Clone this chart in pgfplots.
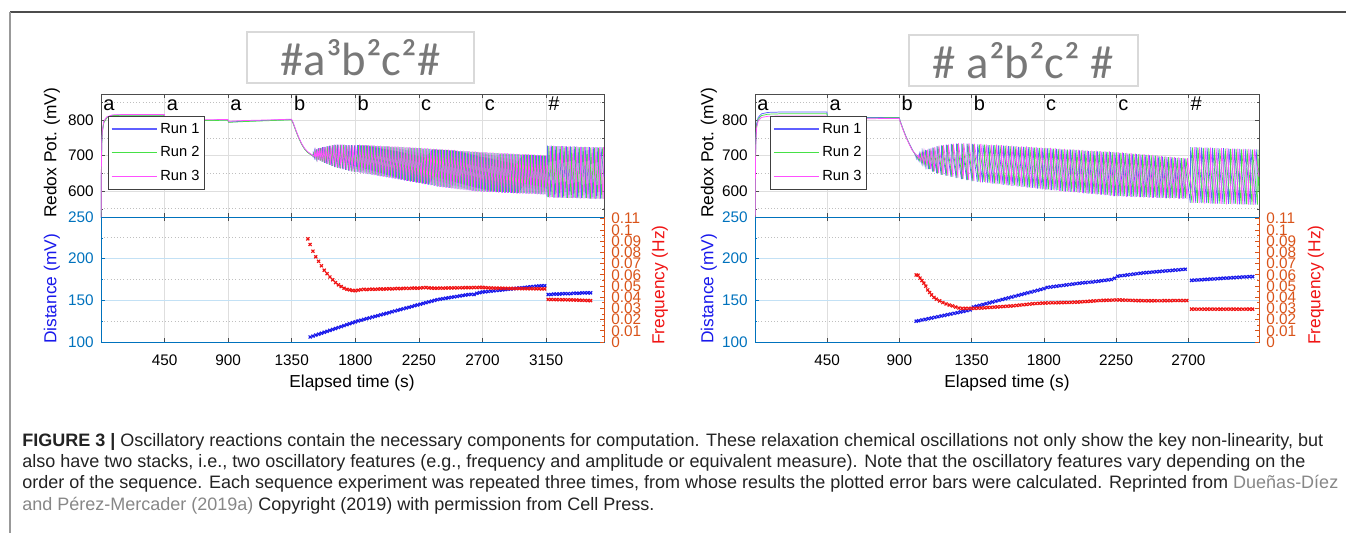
\documentclass[border=0pt]{standalone}
\usepackage{fontspec}
\setmainfont{Liberation Sans}
\newfontfamily\titlefont{Carlito}
\usepackage{pgfplots}
\pgfplotsset{compat=1.18}
\definecolor{runA}{RGB}{95,95,255}
\definecolor{runB}{RGB}{70,225,70}
\definecolor{runC}{RGB}{255,80,255}
\definecolor{mblue}{RGB}{0,114,189}
\definecolor{morange}{RGB}{217,83,25}
\definecolor{dblue}{RGB}{25,25,235}
\definecolor{dred}{RGB}{240,20,20}
\definecolor{gridc}{RGB}{222,222,222}
\definecolor{gridb}{RGB}{195,225,245}
\definecolor{capc}{RGB}{35,35,35}
\definecolor{linkc}{RGB}{135,135,135}
\definecolor{titc}{RGB}{120,120,120}
\pgfplotsset{
  panel/.style={
    scale only axis, anchor=south west,
    /pgf/number format/assume math mode=true,
    /pgf/number format/1000 sep={},
    tick label style={font=\fontsize{11.5}{13}\selectfont},
    axis line style={black!70, line width=0.6pt},
    tick style={black!70, line width=0.5pt},
    tick align=inside, major tick length=3pt, minor tick length=1.5pt,
    xmin=0,
  },
  toppanel/.style={panel, ymin=527, ymax=874, ytick={600,700,800}, minor ytick={550,650,750,850},
    xticklabels={}, xmajorgrids, ymajorgrids, yminorgrids,
    major x grid style={gridc, line width=0.5pt}, major y grid style={gridc, line width=0.5pt},
    minor y grid style={gray!50, dotted, line width=0.6pt},
    yticklabel style={xshift=-2pt},
    legend style={at={(0.014,0.822)}, anchor=north west, draw=black!75, line width=0.6pt, fill=white,
      font=\fontsize{11}{13}\selectfont, inner xsep=2pt, inner ysep=3pt, row sep=4.6pt},
    legend cell align=left},
  botpanel/.style={panel, ymin=100, ymax=250, ytick={100,150,200,250}, minor ytick={125,175,225},
    xmajorgrids, ymajorgrids, yminorgrids,
    major x grid style={gridc, line width=0.5pt}, major y grid style={gridb, line width=0.5pt},
    minor y grid style={gray!50, dotted, line width=0.6pt},
    y axis line style={mblue}, ytick style={mblue}, yticklabel style={mblue, xshift=-2pt},
    xticklabel style={yshift=-6pt}, ytick pos=left},
  freqpanel/.style={panel, ymin=0, ymax=0.1115, axis x line=none, axis y line*=right,
    y axis line style={-, morange, line width=0.6pt},
    ytick={0,0.01,0.02,0.03,0.04,0.05,0.06,0.07,0.08,0.09,0.1,0.11},
    yticklabels={0,0.01,0.02,0.03,0.04,0.05,0.06,0.07,0.08,0.09,0.1,0.11},
    yticklabel style={morange, xshift=2pt}, ytick style={morange}, minor y tick num=1},
  dmark/.style={only marks, mark=x, mark size=1.6pt, mark options={line width=0.9pt}},
}
\newcommand\capfont{\fontsize{13.5}{15}\selectfont}
\begin{document}
\begin{tikzpicture}
\begin{scope}[x=0.75pt,y=-0.75pt]
\useasboundingbox (0,0) rectangle (1346,533);
\draw[black!70, line width=1.4pt] (10,12) -- (1346,12);
\draw[black!40, line width=1.4pt] (10,12) -- (10,533);
% titles
\draw[gray!30, line width=0.8pt] (247,32) rectangle (474,83);
\node[text=titc, inner sep=0pt] at (360.5,57.5) {\titlefont\fontsize{35}{35}\selectfont \#a³b²c²\#};
\draw[gray!30, line width=0.8pt] (909,35) rectangle (1138,86);
\node[text=titc, inner sep=0pt] at (1023.5,60.5) {\titlefont\fontsize{35}{35}\selectfont \# a²b²c² \#};
% axis labels
\begin{scope}[font=\fontsize{13}{15}\selectfont]
\node[rotate=90] at (52,153) {Redox Pot. (mV)};
\node[rotate=90, text=dblue] at (52,289) {Distance (mV)};
\node[rotate=90, text=dred] at (660,285) {Frequency (Hz)};
\node at (352,383) {Elapsed time (s)};
\node[rotate=90] at (709,153) {Redox Pot. (mV)};
\node[rotate=90, text=dblue] at (709,289) {Distance (mV)};
\node[rotate=90, text=dred] at (1316,285) {Frequency (Hz)};
\node at (1007,383) {Elapsed time (s)};
\end{scope}
% caption
\begin{scope}[every node/.style={anchor=base west, inner sep=0pt, font=\capfont, text=capc}]
\node at (22,446) {\textbf{FIGURE 3 |} Oscillatory reactions contain the necessary components for computation. These relaxation chemical oscillations not only show the key non-linearity, but};
\node at (22,467.3) {also have two stacks, i.e., two oscillatory features (e.g., frequency and amplitude or equivalent measure). Note that the oscillatory features vary depending on the};
\node at (22,488.6) {order of the sequence. Each sequence experiment was repeated three times, from whose results the plotted error bars were calculated. Reprinted from \textcolor{linkc}{Dueñas-Díez}};
\node at (22,510) {\textcolor{linkc}{and Pérez-Mercader (2019a)} Copyright (2019) with permission from Cell Press.};
\end{scope}
\end{scope}

%================ LEFT TOP =================
\begin{axis}[toppanel, at={(75.75pt,-162.75pt)}, width=377.25pt, height=92.25pt, xmax=3560,
  xtick={0,450,...,3150},
  legend image code/.code={\draw[#1, line width=0.9pt] (0pt,0pt) -- (34pt,0pt);}]
\addplot[runA, line width=0.55pt, mark=none] coordinates {
(0,480)(3,680)(6,740)(10,770)(20,795)(40,808)(80,814)(150,815)(448,815)(452,799)(600,799)(898,801)(903,795)(1000,797)(1200,800)(1348,802)(1360,792)(1380,770)(1400,750)(1420,733)(1440,720)(1460,711)(1480,705)(1498,700)
(1500,698)(1502,708)(1511,695)(1513,714)(1523,692)(1525,718)(1536,689)(1538,721)(1550,686)(1552,722)(1565,683)(1567,724)(1581,680)(1583,725)(1598,677)(1600,727)(1616,674)(1618,728)(1634,671)(1636,730)(1653,668)(1655,731)(1672,666)(1674,731)(1691,664)(1693,731)(1711,662)(1713,731)(1731,660)(1733,730)(1751,658)(1753,730)(1771,656)(1773,730)(1792,654)(1794,729)
(1813,654)(1815,730)(1834,652)(1836,729)(1855,651)(1857,729)(1876,649)(1878,729)(1897,648)(1899,728)(1918,646)(1920,728)(1939,645)(1941,727)(1960,643)(1962,727)(1981,642)(1983,726)(2002,641)(2004,726)(2023,639)(2025,726)(2044,638)(2046,725)(2065,636)(2067,725)(2086,635)(2088,725)(2107,633)(2109,724)(2128,632)(2130,724)(2149,630)(2151,723)(2170,629)(2172,723)(2191,627)(2193,722)(2212,626)(2214,722)(2233,624)(2235,721)(2254,623)(2256,721)(2275,621)(2277,720)(2296,620)(2298,720)(2317,618)(2319,719)(2338,617)(2340,718)(2359,615)(2361,718)(2380,613)(2382,717)(2401,612)(2403,717)(2422,611)(2424,716)(2443,610)(2445,716)(2464,609)(2466,715)(2485,608)(2487,715)(2506,607)(2508,714)(2527,606)(2529,713)(2548,605)(2550,713)(2569,604)(2571,712)(2590,603)(2592,712)(2611,602)(2613,711)(2632,601)(2634,711)(2653,600)(2655,710)(2674,600)(2676,709)(2695,599)(2697,709)(2716,599)(2718,709)(2737,598)(2739,708)(2758,598)(2760,708)(2779,598)(2781,707)(2800,597)(2802,707)(2821,597)(2823,706)(2842,596)(2844,706)(2863,596)(2865,706)(2884,596)(2886,705)(2905,595)(2907,705)(2926,595)(2928,704)(2947,594)(2949,704)(2968,594)(2970,703)(2989,594)(2991,703)(3010,593)(3012,703)(3031,593)(3033,702)(3052,593)(3054,702)(3073,592)(3075,701)(3094,592)(3096,701)(3115,591)(3117,700)(3136,591)(3138,700)
(3158,583)(3160,728)(3185,583)(3187,728)(3212,582)(3214,727)(3239,582)(3241,727)(3266,582)(3268,727)(3293,581)(3295,726)(3320,581)(3322,726)(3347,581)(3349,726)(3374,580)(3376,725)(3401,580)(3403,725)(3428,580)(3430,725)(3455,579)(3457,724)(3482,579)(3484,724)(3509,579)(3511,724)(3536,579)(3538,724)(3560,640)
};
\addplot[runB, line width=0.55pt, mark=none] coordinates {
(0,480)(3,670)(6,735)(10,768)(20,793)(40,806)(80,813)(150,814)(448,814)(452,797)(600,798)(898,800)(903,794)(1000,796)(1200,799)(1348,801)(1360,791)(1380,769)(1400,749)(1420,732)(1440,719)(1460,710)(1480,704)(1502,699)
(1504,698)(1506,707)(1515,695)(1517,713)(1527,692)(1529,717)(1540,689)(1542,720)(1554,686)(1556,721)(1569,683)(1571,723)(1585,680)(1587,724)(1602,677)(1604,726)(1620,674)(1622,727)(1638,671)(1640,729)(1657,668)(1659,730)(1676,666)(1678,730)(1695,664)(1697,730)(1715,662)(1717,730)(1735,660)(1737,729)(1755,658)(1757,729)(1775,656)(1777,729)(1796,654)(1798,728)
(1820,655)(1822,730)(1841,653)(1843,729)(1862,652)(1864,729)(1883,650)(1885,729)(1904,649)(1906,728)(1925,647)(1927,728)(1946,646)(1948,727)(1967,644)(1969,727)(1988,643)(1990,726)(2009,642)(2011,726)(2030,640)(2032,726)(2051,639)(2053,725)(2072,637)(2074,725)(2093,636)(2095,725)(2114,634)(2116,724)(2135,633)(2137,724)(2156,631)(2158,723)(2177,630)(2179,723)(2198,628)(2200,722)(2219,627)(2221,722)(2240,625)(2242,721)(2261,624)(2263,721)(2282,622)(2284,720)(2303,621)(2305,720)(2324,619)(2326,719)(2345,618)(2347,718)(2366,616)(2368,718)(2387,614)(2389,717)(2408,613)(2410,717)(2429,612)(2431,716)(2450,611)(2452,716)(2471,610)(2473,715)(2492,609)(2494,715)(2513,608)(2515,714)(2534,607)(2536,713)(2555,606)(2557,713)(2576,605)(2578,712)(2597,604)(2599,712)(2618,603)(2620,711)(2639,602)(2641,711)(2660,601)(2662,710)(2681,601)(2683,709)(2702,600)(2704,709)(2723,600)(2725,709)(2744,599)(2746,708)(2765,599)(2767,708)(2786,599)(2788,707)(2807,598)(2809,707)(2828,598)(2830,706)(2849,597)(2851,706)(2870,597)(2872,706)(2891,597)(2893,705)(2912,596)(2914,705)(2933,596)(2935,704)(2954,595)(2956,704)(2975,595)(2977,703)(2996,595)(2998,703)(3017,594)(3019,703)(3038,594)(3040,702)(3059,594)(3061,702)(3080,593)(3082,701)(3101,593)(3103,701)(3122,592)(3124,700)(3143,592)(3145,700)
(3167,583)(3169,727)(3194,583)(3196,727)(3221,582)(3223,726)(3248,582)(3250,726)(3275,582)(3277,726)(3302,581)(3304,725)(3329,581)(3331,725)(3356,581)(3358,725)(3383,580)(3385,724)(3410,580)(3412,724)(3437,580)(3439,724)(3464,579)(3466,723)(3491,579)(3493,723)(3518,579)(3520,723)(3545,579)(3547,723)(3560,690)
};
\addplot[runC, line width=0.55pt, mark=none] coordinates {
(0,480)(3,690)(6,745)(10,773)(20,797)(40,809)(80,815)(150,816)(448,816)(452,801)(600,801)(898,802)(903,797)(1000,799)(1200,801)(1348,803)(1360,793)(1380,771)(1400,751)(1420,734)(1440,721)(1460,712)(1480,706)(1506,699)
(1508,698)(1510,708)(1519,695)(1521,714)(1531,692)(1533,718)(1544,689)(1546,721)(1558,686)(1560,722)(1573,683)(1575,724)(1589,680)(1591,725)(1606,677)(1608,727)(1624,674)(1626,728)(1642,671)(1644,730)(1661,668)(1663,731)(1680,666)(1682,731)(1699,664)(1701,731)(1719,662)(1721,731)(1739,660)(1741,730)(1759,658)(1761,730)(1779,656)(1781,730)(1800,654)(1802,729)
(1827,653)(1829,731)(1848,651)(1850,730)(1869,650)(1871,730)(1890,648)(1892,730)(1911,647)(1913,729)(1932,645)(1934,729)(1953,644)(1955,728)(1974,642)(1976,728)(1995,641)(1997,727)(2016,640)(2018,727)(2037,638)(2039,727)(2058,637)(2060,726)(2079,635)(2081,726)(2100,634)(2102,726)(2121,632)(2123,725)(2142,631)(2144,725)(2163,629)(2165,724)(2184,628)(2186,724)(2205,626)(2207,723)(2226,625)(2228,723)(2247,623)(2249,722)(2268,622)(2270,722)(2289,620)(2291,721)(2310,619)(2312,721)(2331,617)(2333,720)(2352,616)(2354,719)(2373,614)(2375,719)(2394,612)(2396,718)(2415,611)(2417,718)(2436,610)(2438,717)(2457,609)(2459,717)(2478,608)(2480,716)(2499,607)(2501,716)(2520,606)(2522,715)(2541,605)(2543,714)(2562,604)(2564,714)(2583,603)(2585,713)(2604,602)(2606,713)(2625,601)(2627,712)(2646,600)(2648,712)(2667,599)(2669,711)(2688,599)(2690,710)(2709,598)(2711,710)(2730,598)(2732,710)(2751,597)(2753,709)(2772,597)(2774,709)(2793,597)(2795,708)(2814,596)(2816,708)(2835,596)(2837,707)(2856,595)(2858,707)(2877,595)(2879,707)(2898,595)(2900,706)(2919,594)(2921,706)(2940,594)(2942,705)(2961,593)(2963,705)(2982,593)(2984,704)(3003,593)(3005,704)(3024,592)(3026,704)(3045,592)(3047,703)(3066,592)(3068,703)(3087,591)(3089,702)(3108,591)(3110,702)(3129,590)(3131,701)(3150,590)(3152,701)
(3176,582)(3178,728)(3203,582)(3205,728)(3230,581)(3232,727)(3257,581)(3259,727)(3284,581)(3286,727)(3311,580)(3313,726)(3338,580)(3340,726)(3365,580)(3367,726)(3392,579)(3394,725)(3419,579)(3421,725)(3446,579)(3448,725)(3473,578)(3475,724)(3500,578)(3502,724)(3527,578)(3529,724)(3554,578)(3556,724)(3560,705)
};
\legend{Run 1,Run 2,Run 3}
\begin{scope}[every node/.style={anchor=base west, inner sep=0pt, font=\fontsize{15}{15}\selectfont, xshift=1.5pt}]
\node at (axis cs:0,828) {a};
\node at (axis cs:450,828) {a};
\node at (axis cs:900,828) {a};
\node at (axis cs:1350,828) {b};
\node at (axis cs:1800,828) {b};
\node at (axis cs:2250,828) {c};
\node at (axis cs:2700,828) {c};
\node at (axis cs:3150,828) {\#};
\end{scope}
\end{axis}

%================ LEFT BOTTOM =================
\begin{axis}[botpanel, at={(75.75pt,-256.5pt)}, width=377.25pt, height=93.75pt, xmax=3560,
  xtick={450,900,...,3150}]
\addplot[dmark, dblue] coordinates {
(1480,106.0)(1500,107.1)(1520,108.3)(1540,109.4)(1560,110.5)(1580,111.7)(1600,112.8)(1620,114.0)(1640,115.1)(1660,116.2)(1680,117.4)(1700,118.5)(1720,119.6)(1740,120.8)(1760,121.9)(1780,123.1)(1800,124.2)(1820,125.3)(1840,126.2)(1860,127.1)(1880,128.0)(1900,128.9)(1920,129.9)(1940,130.8)(1960,131.7)(1980,132.6)(2000,133.5)(2020,134.4)(2040,135.3)(2060,136.3)(2080,137.2)(2100,138.1)(2120,139.0)(2140,139.9)(2160,140.8)(2180,141.7)(2200,142.6)(2220,143.6)(2240,144.5)(2260,145.4)(2280,146.3)(2300,147.2)(2320,148.1)(2340,149.0)(2360,150.0)(2380,150.8)(2400,151.4)(2420,152.0)(2440,152.5)(2460,153.1)(2480,153.7)(2500,154.2)(2520,154.7)(2540,155.3)(2560,155.8)(2580,156.4)(2600,156.9)(2620,157.2)(2640,157.0)(2660,158.5)(2680,159.3)(2700,159.9)(2720,160.3)(2740,160.6)(2760,161.0)(2780,161.4)(2800,161.8)(2820,162.1)(2840,162.5)(2860,162.9)(2880,163.3)(2900,163.6)(2920,164.0)(2940,164.4)(2960,164.8)(2980,165.1)(3000,165.5)(3020,165.9)(3040,166.3)(3060,166.6)(3080,167.0)(3100,167.3)(3120,167.5)(3140,167.5)
(3165,157.0)(3185,157.0)(3205,157.5)(3225,157.5)(3245,157.5)(3265,158.0)(3285,158.0)(3305,158.0)(3325,158.0)(3345,158.5)(3365,158.5)(3385,158.5)(3405,159.0)(3425,159.0)(3445,159.0)(3465,159.0)
};
\end{axis}
\begin{axis}[freqpanel, at={(75.75pt,-256.5pt)}, width=377.25pt, height=93.75pt, xmax=3560]
\addplot[dmark, dred] coordinates {
(1464,0.092)(1480,0.087)(1500,0.081)(1520,0.076)(1540,0.072)(1560,0.068)(1580,0.064)(1600,0.061)(1620,0.058)(1640,0.0555)(1660,0.053)(1680,0.051)(1700,0.0495)(1720,0.048)(1740,0.047)(1760,0.0465)(1780,0.046)(1800,0.0458)(1820,0.0462)(1840,0.0467)(1860,0.0470)(1880,0.0468)(1900,0.0470)(1920,0.0471)(1940,0.0470)(1960,0.0472)(1980,0.0473)(2000,0.0472)(2020,0.0474)(2040,0.0475)(2060,0.0474)(2080,0.0476)(2100,0.0477)(2120,0.0476)(2140,0.0478)(2160,0.0479)(2180,0.0478)(2200,0.0480)(2220,0.0481)(2240,0.0480)(2260,0.0482)(2280,0.0484)(2300,0.0486)(2320,0.0483)(2340,0.0481)(2360,0.0480)(2380,0.0480)(2400,0.0481)(2420,0.0480)(2440,0.0481)(2460,0.0482)(2480,0.0482)(2500,0.0483)(2520,0.0483)(2540,0.0484)(2560,0.0484)(2580,0.0485)(2600,0.0485)(2620,0.0485)(2640,0.0486)(2660,0.0486)(2680,0.0487)(2700,0.0487)(2720,0.0485)(2740,0.0483)(2760,0.0482)(2780,0.0481)(2800,0.0480)(2820,0.0480)(2840,0.0479)(2860,0.0479)(2880,0.0478)(2900,0.0478)(2920,0.0477)(2940,0.0477)(2960,0.0477)(2980,0.0476)(3000,0.0476)(3020,0.0476)(3040,0.0476)(3060,0.0475)(3080,0.0475)(3100,0.0475)(3120,0.0474)(3140,0.0474)
(3165,0.0380)(3185,0.0379)(3205,0.0379)(3225,0.0378)(3245,0.0378)(3265,0.0377)(3285,0.0377)(3305,0.0376)(3325,0.0376)(3345,0.0375)(3365,0.0374)(3385,0.0373)(3405,0.0372)(3425,0.0371)(3445,0.0370)(3465,0.0369)
};
\end{axis}

%================ RIGHT TOP =================
\begin{axis}[toppanel, at={(566.25pt,-162.75pt)}, width=378pt, height=92.25pt, xmax=3140,
  xtick={0,450,...,2700}, legend style={at={(0.03,0.822)}},
  legend image code/.code={\draw[#1, line width=0.9pt] (0pt,0pt) -- (34pt,0pt);}]
\addplot[runA, line width=0.55pt, mark=none] coordinates {
(0,480)(3,700)(6,760)(10,790)(20,808)(40,818)(80,822)(150,823)(448,823)(452,809)(600,808)(898,808)(905,797)(920,778)(940,755)(960,735)(980,717)(995,705)(1003,697)
(1005,693)(1007,700)(1022,685)(1024,706)(1040,677)(1042,712)(1060,670)(1062,716)(1082,662)(1084,720)(1106,655)(1108,723)(1132,650)(1134,727)(1160,646)(1162,729)(1190,643)(1192,731)(1221,640)(1223,733)(1253,637)(1255,734)(1286,634)(1288,734)(1319,631)(1321,734)(1352,628)(1354,733)
(1385,626)(1387,732)(1418,625)(1420,731)(1450,623)(1452,730)(1482,621)(1484,730)(1514,620)(1516,729)(1546,618)(1548,728)(1577,616)(1579,727)(1608,615)(1610,726)(1639,613)(1641,725)(1670,612)(1672,725)(1700,610)(1702,724)(1730,609)(1732,723)(1760,607)(1762,722)(1790,605)(1792,721)(1819,604)(1821,721)(1848,603)(1850,720)(1877,602)(1879,719)(1906,600)(1908,718)(1935,599)(1937,717)(1964,598)(1966,717)(1992,597)(1994,716)(2020,596)(2022,715)(2048,594)(2050,714)(2076,593)(2078,713)(2104,592)(2106,713)(2132,591)(2134,712)(2159,590)(2161,711)(2186,589)(2188,711)(2213,587)(2215,710)(2240,586)(2242,709)(2267,586)(2269,708)(2294,585)(2296,707)(2321,585)(2323,706)(2348,584)(2350,705)(2375,584)(2377,704)(2402,583)(2404,703)(2429,583)(2431,702)(2456,582)(2458,701)(2483,582)(2485,700)(2510,581)(2512,698)(2537,581)(2539,697)(2564,580)(2566,696)(2591,580)(2593,695)(2618,580)(2620,694)(2645,579)(2647,693)(2672,579)(2674,692)
(2712,567)(2714,724)(2746,567)(2748,724)(2780,566)(2782,723)(2814,566)(2816,723)(2848,565)(2850,722)(2882,565)(2884,721)(2916,564)(2918,721)(2950,564)(2952,720)(2984,564)(2986,720)(3018,563)(3020,719)(3052,563)(3054,719)(3086,562)(3088,718)(3120,562)(3122,718)(3140,620)
};
\addplot[runB, line width=0.55pt, mark=none] coordinates {
(0,480)(3,690)(6,752)(10,783)(20,803)(40,813)(80,817)(150,818)(448,818)(452,807)(600,806)(898,807)(905,796)(920,777)(940,754)(960,734)(980,716)(1000,703)(1009,697)
(1011,693)(1013,699)(1028,685)(1030,705)(1046,677)(1048,711)(1066,670)(1068,715)(1088,662)(1090,719)(1112,655)(1114,722)(1138,650)(1140,726)(1166,646)(1168,728)(1196,643)(1198,730)(1227,640)(1229,732)(1259,637)(1261,733)(1292,634)(1294,733)(1325,631)(1327,733)(1358,628)(1360,732)
(1395,627)(1397,732)(1428,626)(1430,731)(1460,624)(1462,730)(1492,622)(1494,730)(1524,621)(1526,729)(1556,619)(1558,728)(1587,617)(1589,727)(1618,616)(1620,726)(1649,614)(1651,725)(1680,613)(1682,725)(1710,611)(1712,724)(1740,610)(1742,723)(1770,608)(1772,722)(1800,606)(1802,721)(1829,605)(1831,721)(1858,604)(1860,720)(1887,603)(1889,719)(1916,601)(1918,718)(1945,600)(1947,717)(1974,599)(1976,717)(2002,598)(2004,716)(2030,597)(2032,715)(2058,595)(2060,714)(2086,594)(2088,713)(2114,593)(2116,713)(2142,592)(2144,712)(2169,591)(2171,711)(2196,590)(2198,711)(2223,588)(2225,710)(2250,587)(2252,709)(2277,587)(2279,708)(2304,586)(2306,707)(2331,586)(2333,706)(2358,585)(2360,705)(2385,585)(2387,704)(2412,584)(2414,703)(2439,584)(2441,702)(2466,583)(2468,701)(2493,583)(2495,700)(2520,582)(2522,698)(2547,582)(2549,697)(2574,581)(2576,696)(2601,581)(2603,695)(2628,581)(2630,694)(2655,580)(2657,693)(2682,580)(2684,692)
(2723,567)(2725,723)(2757,567)(2759,723)(2791,566)(2793,722)(2825,566)(2827,722)(2859,565)(2861,721)(2893,565)(2895,720)(2927,564)(2929,720)(2961,564)(2963,719)(2995,564)(2997,719)(3029,563)(3031,718)(3063,563)(3065,718)(3097,562)(3099,717)(3131,562)(3133,717)(3140,600)
};
\addplot[runC, line width=0.55pt, mark=none] coordinates {
(0,480)(3,680)(6,745)(10,778)(20,798)(40,808)(80,811)(150,812)(448,812)(452,805)(600,804)(898,805)(905,795)(920,776)(940,753)(960,733)(980,715)(1005,702)(1015,697)
(1017,694)(1019,701)(1034,686)(1036,707)(1052,678)(1054,713)(1072,671)(1074,717)(1094,663)(1096,721)(1118,656)(1120,724)(1144,651)(1146,728)(1172,647)(1174,730)(1202,644)(1204,732)(1233,641)(1235,734)(1265,638)(1267,735)(1298,635)(1300,735)(1331,632)(1333,735)(1364,629)(1366,734)
(1405,625)(1407,733)(1438,624)(1440,732)(1470,622)(1472,731)(1502,620)(1504,731)(1534,619)(1536,730)(1566,617)(1568,729)(1597,615)(1599,728)(1628,614)(1630,727)(1659,612)(1661,726)(1690,611)(1692,726)(1720,609)(1722,725)(1750,608)(1752,724)(1780,606)(1782,723)(1810,604)(1812,722)(1839,603)(1841,722)(1868,602)(1870,721)(1897,601)(1899,720)(1926,599)(1928,719)(1955,598)(1957,718)(1984,597)(1986,718)(2012,596)(2014,717)(2040,595)(2042,716)(2068,593)(2070,715)(2096,592)(2098,714)(2124,591)(2126,714)(2152,590)(2154,713)(2179,589)(2181,712)(2206,588)(2208,712)(2233,586)(2235,711)(2260,585)(2262,710)(2287,585)(2289,709)(2314,584)(2316,708)(2341,584)(2343,707)(2368,583)(2370,706)(2395,583)(2397,705)(2422,582)(2424,704)(2449,582)(2451,703)(2476,581)(2478,702)(2503,581)(2505,701)(2530,580)(2532,699)(2557,580)(2559,698)(2584,579)(2586,697)(2611,579)(2613,696)(2638,579)(2640,695)(2665,578)(2667,694)(2692,578)(2694,693)
(2734,566)(2736,724)(2768,566)(2770,724)(2802,565)(2804,723)(2836,565)(2838,723)(2870,564)(2872,722)(2904,564)(2906,721)(2938,563)(2940,721)(2972,563)(2974,720)(3006,563)(3008,720)(3040,562)(3042,719)(3074,562)(3076,719)(3108,561)(3110,718)(3140,640)
};
\legend{Run 1,Run 2,Run 3}
\begin{scope}[every node/.style={anchor=base west, inner sep=0pt, font=\fontsize{15}{15}\selectfont, xshift=1.5pt}]
\node at (axis cs:0,828) {a};
\node at (axis cs:450,828) {a};
\node at (axis cs:900,828) {b};
\node at (axis cs:1350,828) {b};
\node at (axis cs:1800,828) {c};
\node at (axis cs:2250,828) {c};
\node at (axis cs:2700,828) {\#};
\end{scope}
\end{axis}

%================ RIGHT BOTTOM =================
\begin{axis}[botpanel, at={(566.25pt,-256.5pt)}, width=378pt, height=93.75pt, xmax=3140,
  xtick={450,900,...,2700}]
\addplot[dmark, dblue] coordinates {
(1004,125.0)(1020,125.6)(1040,126.4)(1060,127.2)(1080,128.0)(1100,128.8)(1120,129.6)(1140,130.4)(1160,131.2)(1180,132.0)(1200,132.8)(1220,133.6)(1240,134.4)(1260,135.2)(1280,136.0)(1300,136.8)(1320,137.6)(1340,138.5)(1360,142.0)(1380,143.0)(1400,144.0)(1420,145.0)(1440,146.0)(1460,147.0)(1480,148.0)(1500,149.0)(1520,150.0)(1540,151.0)(1560,152.0)(1580,153.0)(1600,154.0)(1620,155.0)(1640,156.0)(1660,157.0)(1680,158.0)(1700,159.0)(1720,160.0)(1740,161.0)(1760,162.0)(1780,163.0)(1800,164.0)(1820,165.5)(1840,166.0)(1860,166.5)(1880,167.0)(1900,167.5)(1920,168.0)(1940,168.5)(1960,169.0)(1980,169.5)(2000,170.0)(2020,170.5)(2040,171.0)(2060,171.3)(2080,171.7)(2100,172.0)(2120,172.5)(2140,173.0)(2160,173.5)(2180,174.0)(2200,174.5)(2220,175.0)(2240,176.5)(2260,179.0)(2280,179.5)(2300,180.0)(2320,180.5)(2340,181.0)(2360,181.5)(2380,182.0)(2400,182.5)(2420,183.0)(2440,183.3)(2460,183.6)(2480,184.0)(2500,184.3)(2520,184.6)(2540,185.0)(2560,185.3)(2580,185.6)(2600,186.0)(2620,186.3)(2640,186.6)(2660,187.0)(2680,187.3)
(2720,174.0)(2740,174.2)(2760,174.5)(2780,174.7)(2800,175.0)(2820,175.2)(2840,175.5)(2860,175.7)(2880,176.0)(2900,176.2)(2920,176.5)(2940,176.7)(2960,177.0)(2980,177.2)(3000,177.5)(3020,177.7)(3040,178.0)(3060,178.2)(3080,178.4)(3100,178.5)
};
\end{axis}
\begin{axis}[freqpanel, at={(566.25pt,-256.5pt)}, width=378pt, height=93.75pt, xmax=3140]
\addplot[dmark, dred] coordinates {
(1004,0.0598)(1016,0.0596)(1028,0.0570)(1040,0.0548)(1052,0.0525)(1064,0.0498)(1076,0.0465)(1088,0.0442)(1100,0.0420)(1115,0.0398)(1130,0.0382)(1150,0.0367)(1170,0.0352)(1190,0.0340)(1210,0.0330)(1230,0.0322)(1250,0.0312)(1270,0.0303)(1290,0.0300)(1310,0.0300)(1330,0.0300)
(1350,0.0300)(1370,0.0300)(1390,0.0302)(1410,0.0303)(1430,0.0305)(1450,0.0307)(1470,0.0309)(1490,0.0311)(1510,0.0313)(1530,0.0315)(1550,0.0317)(1570,0.0319)(1590,0.0321)(1610,0.0323)(1630,0.0326)(1650,0.0329)(1670,0.0332)(1690,0.0335)(1710,0.0338)(1730,0.0341)(1750,0.0343)(1770,0.0345)(1790,0.0347)(1810,0.0348)(1830,0.0349)(1850,0.0350)(1870,0.0350)(1890,0.0351)(1910,0.0352)(1930,0.0352)(1950,0.0353)(1970,0.0354)(1990,0.0355)(2010,0.0356)(2030,0.0358)(2050,0.0360)(2070,0.0362)(2090,0.0364)(2110,0.0366)(2130,0.0368)(2150,0.0370)(2170,0.0371)(2190,0.0372)(2210,0.0373)(2230,0.0374)(2250,0.0375)(2270,0.0375)(2290,0.0374)(2310,0.0373)(2330,0.0372)(2350,0.0371)(2370,0.0370)(2390,0.0369)(2410,0.0369)(2430,0.0368)(2450,0.0368)(2470,0.0368)(2490,0.0368)(2510,0.0368)(2530,0.0368)(2550,0.0369)(2570,0.0369)(2590,0.0369)(2610,0.0370)(2630,0.0370)(2650,0.0370)(2670,0.0370)(2690,0.0370)
(2720,0.0293)(2740,0.0293)(2760,0.0293)(2780,0.0293)(2800,0.0293)(2820,0.0293)(2840,0.0293)(2860,0.0293)(2880,0.0293)(2900,0.0293)(2920,0.0293)(2940,0.0293)(2960,0.0293)(2980,0.0293)(3000,0.0293)(3020,0.0293)(3040,0.0293)(3060,0.0293)(3080,0.0293)(3100,0.0293)
};
\end{axis}
\end{tikzpicture}
\end{document}
